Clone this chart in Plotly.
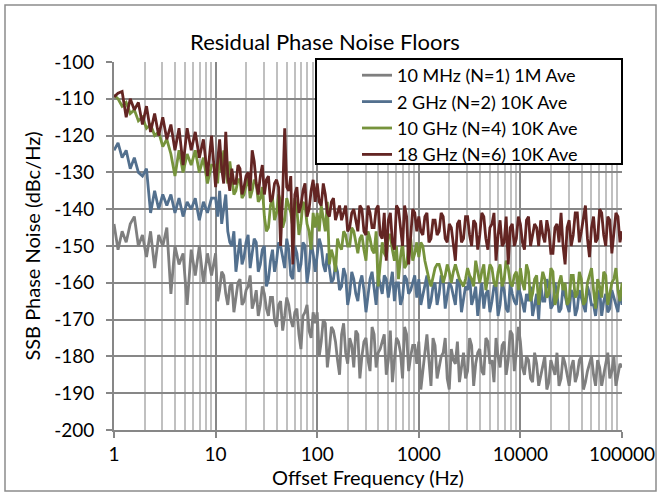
import plotly.graph_objects as go

# ---- data ----
# grid of offset frequencies: 25 points per decade, plus half-step points above 10 Hz
MANT = [1.000, 1.096, 1.202, 1.318, 1.445, 1.585, 1.738, 1.905, 2.089, 2.291,
        2.512, 2.754, 3.020, 3.311, 3.631, 3.981, 4.365, 4.786, 5.248, 5.754,
        6.310, 6.918, 7.586, 8.318, 9.120]
MANT_MID = [1.047, 1.148, 1.259, 1.380, 1.514, 1.660, 1.820, 1.995, 2.188, 2.399,
            2.630, 2.884, 3.162, 3.467, 3.802, 4.169, 4.571, 5.012, 5.495, 6.026,
            6.607, 7.244, 7.943, 8.710, 9.550]
DECADES = [1, 10, 100, 1000, 10000]
LAST_FREQ = 100000

# values on the MANT grid (1 Hz ... 91.2 kHz, then 100 kHz), dBc/Hz
gray_10mhz = [
    -144, -151, -146, -149, -144, -142, -150, -147, -153, -146, -156, -147, -150,
    -145, -163, -150, -155, -152, -166, -151, -158, -150, -160, -152, -158,
    -152, -162, -158, -166, -160, -164, -159, -165, -161, -167, -162, -166, -163,
    -169, -164, -172, -165, -169, -166, -172, -167, -178, -168, -173, -168,
    -168, -176, -171, -178, -173, -181, -174, -179, -175, -183, -174, -180, -175,
    -184, -174, -179, -176, -185, -173, -181, -176, -186, -174, -180, -177,
    -176, -184, -174, -188, -177, -183, -179, -186, -178, -182, -187, -179, -184,
    -177, -182, -178, -185, -176, -181, -175, -183, -176, -181, -174, -179,
    -176, -185, -181, -187, -182, -185, -180, -187, -183, -179, -186, -182, -188,
    -181, -185, -180, -187, -182, -185, -181, -188, -182, -186, -180, -185,
    -183]
# values on the MANT_MID grid (10 Hz ... 95.5 kHz)
gray_10mhz_mid = [
    -165, -157, -163, -161, -168, -160, -166, -162, -158, -165, -169, -161, -167,
    -164, -170, -166, -173, -164, -170, -168, -174, -169, -166, -175, -171,
    -180, -170, -183, -172, -176, -185, -171, -182, -177, -173, -186, -176, -181,
    -172, -183, -178, -174, -181, -187, -175, -179, -172, -184, -177, -182,
    -189, -178, -181, -175, -186, -180, -175, -189, -181, -176, -183, -186, -175,
    -188, -179, -184, -175, -182, -187, -180, -177, -185, -173, -184, -172,
    -183, -180, -186, -179, -188, -183, -189, -181, -185, -188, -180, -185, -183,
    -187, -181, -189, -184, -180, -188, -183, -185, -179, -184, -188, -182]

blue_2ghz = [
    -124, -122, -126, -124, -129, -126, -130, -131, -129, -141, -135, -140, -136,
    -139, -136, -141, -137, -142, -138, -140, -137, -143, -138, -141, -137,
    -137, -135, -140, -146, -150, -157, -148, -153, -147, -152, -149, -155, -150,
    -159, -151, -154, -150, -156, -151, -159, -152, -155, -150, -156, -152,
    -153, -150, -157, -156, -159, -157, -161, -158, -163, -159, -165, -158, -168,
    -159, -162, -158, -163, -159, -161, -165, -160, -164, -159, -162, -158,
    -159, -163, -158, -165, -160, -163, -159, -164, -161, -166, -160, -165, -162,
    -166, -161, -164, -167, -162, -165, -161, -166, -162, -168, -163, -166,
    -163, -168, -165, -169, -163, -160, -165, -161, -166, -163, -167, -164, -168,
    -163, -167, -164, -168, -163, -166, -164, -169, -163, -167, -164, -168,
    -166]
blue_2ghz_mid = [
    -142, -144, -136, -149, -146, -152, -155, -149, -156, -148, -157, -151, -161,
    -154, -157, -149, -153, -148, -158, -150, -157, -149, -160, -149, -157,
    -148, -155, -152, -160, -155, -162, -156, -166, -157, -163, -160, -162, -164,
    -157, -166, -161, -158, -164, -157, -160, -166, -158, -163, -160, -164,
    -166, -160, -167, -161, -166, -158, -167, -160, -164, -159, -168, -161, -158,
    -164, -169, -160, -163, -168, -161, -169, -160, -167, -160, -165, -161,
    -166, -163, -161, -166, -170, -165, -159, -167, -160, -168, -161, -166, -162,
    -169, -162, -166, -161, -166, -169, -162, -165, -168, -162, -166, -162]

green_10ghz = [
    -109, -110, -112, -111, -114, -113, -116, -115, -118, -117, -120, -119, -123,
    -121, -125, -131, -124, -130, -125, -128, -124, -130, -126, -133, -128,
    -128, -125, -124, -133, -131, -135, -132, -136, -131, -135, -133, -137, -142,
    -145, -137, -141, -138, -143, -139, -145, -140, -144, -139, -146, -141,
    -141, -139, -146, -155, -153, -148, -151, -147, -150, -146, -152, -147, -154,
    -148, -152, -161, -149, -153, -147, -154, -159, -149, -155, -148, -152,
    -153, -150, -157, -161, -156, -155, -160, -155, -160, -155, -159, -161, -156,
    -159, -154, -160, -155, -158, -156, -161, -155, -159, -156, -161, -157,
    -156, -162, -157, -163, -158, -161, -159, -163, -157, -164, -158, -160, -165,
    -158, -163, -159, -165, -158, -162, -159, -164, -158, -163, -159, -162,
    -160]
green_10ghz_mid = [
    -133, -130, -129, -127, -136, -132, -137, -133, -137, -132, -138, -134, -146,
    -139, -143, -136, -145, -137, -141, -137, -147, -138, -144, -151, -145,
    -146, -143, -138, -151, -157, -150, -146, -150, -145, -149, -148, -151, -146,
    -151, -146, -155, -152, -147, -151, -150, -153, -156, -150, -154, -149,
    -149, -154, -159, -158, -155, -157, -158, -157, -157, -157, -160, -159, -158,
    -161, -157, -157, -162, -155, -160, -157, -161, -154, -160, -158, -162,
    -160, -155, -165, -159, -166, -157, -164, -156, -166, -160, -162, -166, -158,
    -164, -157, -166, -160, -156, -167, -161, -157, -166, -160, -156, -165]

red_18ghz = [
    -109.5, -108.5, -108, -115, -110, -113, -111, -117, -112, -119, -114, -120, -115,
    -121, -117, -124, -118, -128, -118, -124, -119, -126, -121, -131, -120,
    -134, -121, -133, -131, -129, -133, -129, -134, -130, -124, -133, -131, -136,
    -131, -137, -132, -150, -118, -135, -155, -134, -139, -133, -140, -132,
    -133, -139, -136, -142, -137, -141, -143, -139, -145, -140, -146, -140, -147,
    -141, -145, -139, -148, -154, -141, -151, -140, -150, -142, -147, -141,
    -142, -147, -141, -148, -143, -146, -142, -149, -145, -154, -143, -148, -142,
    -150, -144, -147, -142, -151, -144, -154, -143, -149, -155, -144, -148,
    -144, -151, -142, -147, -145, -143, -149, -146, -152, -144, -141, -155, -143,
    -147, -141, -146, -139, -153, -142, -148, -141, -150, -143, -147, -142,
    -146]
red_18ghz_mid = [
    -127, -129, -119, -135, -133, -128, -136, -131, -135, -127, -136, -128, -132,
    -138, -133, -134, -136, -134, -131, -136, -141, -135, -142, -135, -138,
    -138, -133, -141, -138, -143, -139, -141, -146, -141, -143, -139, -146, -139,
    -145, -140, -147, -141, -143, -149, -139, -145, -139, -155, -140, -146,
    -146, -142, -149, -143, -147, -141, -148, -144, -150, -144, -149, -142, -147,
    -143, -151, -141, -148, -145, -141, -147, -150, -142, -145, -150, -142,
    -149, -143, -150, -144, -150, -147, -143, -152, -145, -149, -150, -145, -150,
    -141, -149, -143, -148, -145, -149, -140, -147, -142, -152, -141, -149]

series = [
    ("10 MHz (N=1) 1M Ave", gray_10mhz, gray_10mhz_mid, "#7f7f7f"),
    ("2 GHz (N=2) 10K Ave", blue_2ghz, blue_2ghz_mid, "#53708e"),
    ("10 GHz (N=4) 10K Ave", green_10ghz, green_10ghz_mid, "#76933c"),
    ("18 GHz (N=6) 10K Ave", red_18ghz, red_18ghz_mid, "#632523"),
]

x_tickvals = [1, 10, 100, 1000, 10000, 100000]
x_ticktext = ["1", "10", "100", "1000", "10000", "100000"]
y_tickvals = [-200, -190, -180, -170, -160, -150, -140, -130, -120, -110, -100]
y_ticktext = ["-200", "-190", "-180", "-170", "-160", "-150", "-140", "-130",
              "-120", "-110", "-100"]
minor_vals = [m * d for d in DECADES for m in range(2, 10)]


def merge(main, mid):
    xs, ys = [], []
    for di, d in enumerate(DECADES):
        for k in range(len(MANT)):
            xs.append(MANT[k] * d)
            ys.append(main[di * len(MANT) + k])
            if di >= 1:
                xs.append(MANT_MID[k] * d)
                ys.append(mid[(di - 1) * len(MANT_MID) + k])
    xs.append(LAST_FREQ)
    ys.append(main[-1])
    return xs, ys


FONT = "Lato"

fig = go.Figure()
for name, main, mid, color in series:
    xs, ys = merge(main, mid)
    fig.add_trace(go.Scatter(x=xs, y=ys, mode="lines", name=name,
                             line=dict(color=color, width=2.8)))

# plot area: x 114..622, y 62..430
L, R, T, B = 114, 40, 62, 66
W, H = 662, 496
pw, ph = W - L - R, H - T - B

def px(xp):
    return (xp - L) / pw

def py(yp):
    return (H - B - yp) / ph

fig.update_layout(
    width=W, height=H,
    margin=dict(l=L, r=R, t=T, b=B, autoexpand=False),
    paper_bgcolor="white", plot_bgcolor="white",
    font=dict(family=FONT, size=19, color="black"),
    title=dict(text="Residual Phase Noise Floors", x=325 / W, xanchor="center",
               y=1 - 42 / H, yanchor="middle", font=dict(size=22, family=FONT)),
    showlegend=True,
    legend=dict(x=px(357), y=py(57), xanchor="left", yanchor="top",
                bgcolor="rgba(0,0,0,0)", borderwidth=0,
                font=dict(size=18, family=FONT), tracegroupgap=0),
    xaxis=dict(type="log", range=[0, 5], tickvals=x_tickvals, ticktext=x_ticktext,
               automargin=False,
               showgrid=True, gridcolor="#878787", gridwidth=1.7,
               showline=True, linecolor="#878787", linewidth=1.7,
               ticks="outside", ticklen=6, tickcolor="#878787", tickwidth=1.7,
               minor=dict(tickmode="array", tickvals=minor_vals, showgrid=True,
                          gridcolor="#c0c0c0", gridwidth=1.8, ticks=""),
               title=dict(text="Offset Frequency (Hz)", font=dict(size=20), standoff=4),
               zeroline=False, tickfont=dict(size=19)),
    yaxis=dict(range=[-200, -100], tickvals=y_tickvals, ticktext=y_ticktext,
               automargin=False,
               showgrid=True, gridcolor="#878787", gridwidth=1.7,
               showline=True, linecolor="#878787", linewidth=1.7,
               ticks="outside", ticklen=6, tickcolor="#878787", tickwidth=1.7,
               ticklabelstandoff=8,
               title=dict(text="SSB Phase Noise (dBc/Hz)", font=dict(size=20), standoff=8),
               zeroline=False, tickfont=dict(size=19)),
    shapes=[
        # outer chart border
        dict(type="rect", xref="paper", yref="paper",
             x0=px(5), x1=px(656), y0=py(491), y1=py(5),
             line=dict(color="#8c8c8c", width=1.5), fillcolor="rgba(0,0,0,0)", layer="below"),
        # legend box
        dict(type="rect", xref="paper", yref="paper",
             x0=px(316), x1=px(622), y0=py(164), y1=py(59),
             line=dict(color="black", width=2), fillcolor="white", layer="above"),
    ],
)

fig.write_html("out.html")
